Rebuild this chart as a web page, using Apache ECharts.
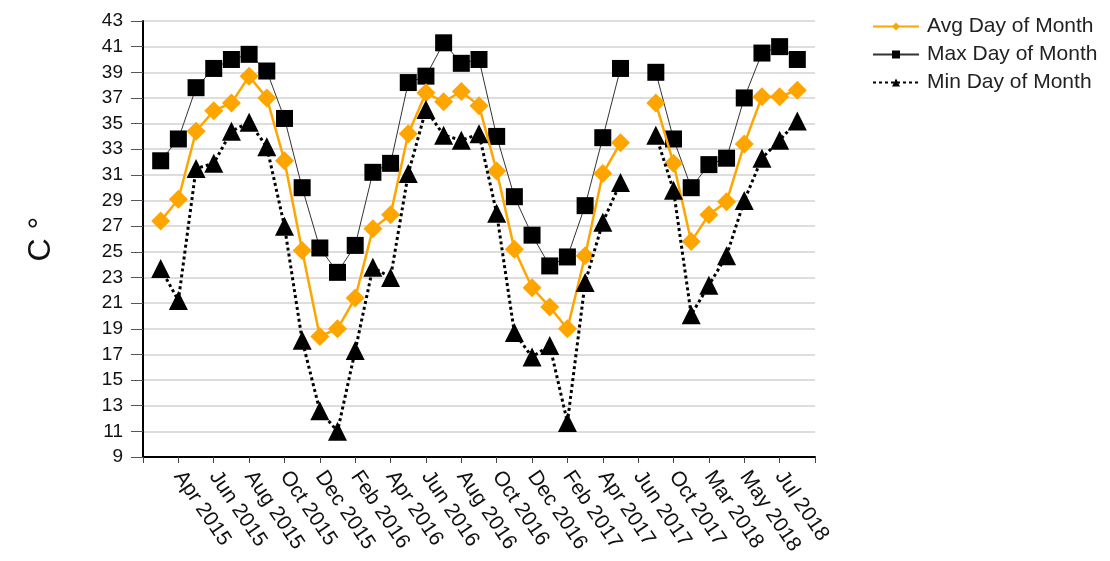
<!DOCTYPE html>
<html>
<head>
<meta charset="utf-8">
<script src="https://cdn.jsdelivr.net/npm/echarts@6/dist/echarts.min.js"></script>
<style>
html,body{margin:0;padding:0;background:#fff;}
#chart{width:1110px;height:561px;}
</style>
</head>
<body>
<div id="chart"></div>
<script>
const categories = ['', 'Mar 2015', 'Apr 2015', 'May 2015', 'Jun 2015', 'Jul 2015', 'Aug 2015', 'Sep 2015', 'Oct 2015', 'Nov 2015', 'Dec 2015',
  'Jan 2016', 'Feb 2016', 'Mar 2016', 'Apr 2016', 'May 2016', 'Jun 2016', 'Jul 2016', 'Aug 2016', 'Sep 2016', 'Oct 2016', 'Nov 2016', 'Dec 2016',
  'Jan 2017', 'Feb 2017', 'Mar 2017', 'Apr 2017', 'May 2017', 'Jun 2017', 'Sep 2017', 'Oct 2017', 'Jan 2018', 'Mar 2018', 'Apr 2018',
  'May 2018', 'Jun 2018', 'Jul 2018', 'Aug 2018', ''];
const avgDay = [null, 27.4, 29.1, 34.4, 36.0, 36.6, 38.7, 37.0, 32.1, 25.1, 18.4, 19.0, 21.4, 26.8, 27.9, 34.2, 37.4, 36.7, 37.5, 36.4, 31.3,
  25.2, 22.2, 20.7, 19.0, 24.7, 31.1, 33.5, null, 36.6, 31.9, 25.8, 27.9, 28.9, 33.4, 37.1, 37.1, 37.6, null];
const maxDay = [null, 32.1, 33.8, 37.8, 39.3, 40.0, 40.4, 39.1, 35.4, 30.0, 25.3, 23.4, 25.5, 31.2, 31.9, 38.2, 38.7, 41.3, 39.7, 40.0, 34.0,
  29.3, 26.3, 23.9, 24.6, 28.6, 33.9, 39.3, null, 39.0, 33.8, 30.0, 31.8, 32.3, 37.0, 40.5, 41.0, 40.0, null];
const minDay = [null, 23.7, 21.2, 31.5, 31.9, 34.4, 35.1, 33.2, 27.0, 18.1, 12.6, 11.0, 17.3, 23.8, 23.0, 31.1, 36.1, 34.1, 33.7, 34.2, 28.0,
  18.7, 16.8, 17.7, 11.7, 22.6, 27.3, 30.4, null, 34.1, 29.8, 20.1, 22.4, 24.7, 29.0, 32.3, 33.7, 35.2, null];
const seriesNames = ['Avg Day of Month', 'Max Day of Month', 'Min Day of Month'];
const yTitle = 'C °';

const font = 'Liberation Sans, Arial, sans-serif';
const chart = echarts.init(document.getElementById('chart'), null, {renderer: 'canvas'});
chart.setOption({
  animation: false,
  backgroundColor: '#fff',
  legend: {
    orient: 'vertical',
    left: 867,
    top: 11,
    itemWidth: 46,
    itemHeight: 10,
    itemGap: 7,
    textStyle: {fontFamily: font, fontSize: 21, color: '#222', padding: [0, 0, 0, 3]},
    data: seriesNames
  },
  grid: {left: 143, right: 295, top: 21, bottom: 104, containLabel: false},
  xAxis: {
    type: 'category',
    data: categories,
    boundaryGap: false,
    axisLine: {lineStyle: {color: '#000', width: 2}},
    axisTick: {interval: 1, length: 6, lineStyle: {color: '#444', width: 1}},
    axisLabel: {interval: 1, rotate: -56, margin: 16, fontFamily: font, fontSize: 21, color: '#111'},
    splitLine: {show: false}
  },
  yAxis: {
    type: 'value',
    min: 9, max: 43, interval: 2,
    name: yTitle,
    nameLocation: 'middle',
    nameRotate: 90,
    nameGap: 86,
    nameTextStyle: {fontFamily: font, fontSize: 32, color: '#111'},
    axisLine: {show: true, lineStyle: {color: '#000', width: 2}},
    axisTick: {show: true, length: 12, lineStyle: {color: '#555', width: 1}},
    axisLabel: {margin: 20, fontFamily: font, fontSize: 19, color: '#111'},
    splitLine: {show: true, lineStyle: {color: '#ddd', width: 2}}
  },
  series: [
    {
      name: seriesNames[0], type: 'line', data: avgDay,
      symbol: 'diamond', symbolSize: 19, z: 3, showAllSymbol: true,
      lineStyle: {color: '#FFA500', width: 2.5},
      itemStyle: {color: '#FFA500'}
    },
    {
      name: seriesNames[1], type: 'line', data: maxDay,
      symbol: 'rect', symbolSize: 17, z: 2, showAllSymbol: true,
      lineStyle: {color: '#333', width: 1},
      itemStyle: {color: '#000'}
    },
    {
      name: seriesNames[2], type: 'line', data: minDay,
      symbol: 'triangle', symbolSize: 19, z: 4, showAllSymbol: true,
      lineStyle: {color: '#000', width: 3, type: [3, 3]},
      itemStyle: {color: '#000'}
    }
  ]
});
</script>
</body>
</html>
